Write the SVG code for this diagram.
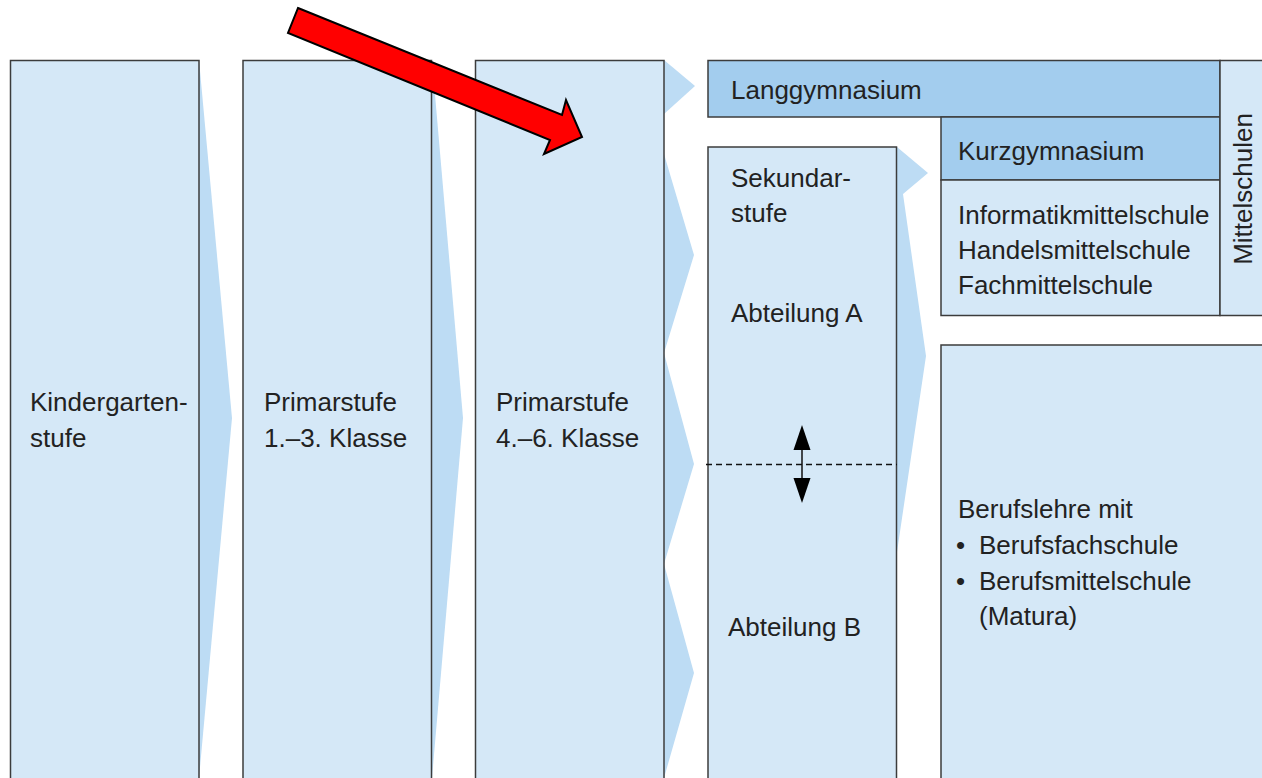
<svg xmlns="http://www.w3.org/2000/svg" width="1262" height="778" viewBox="0 0 1262 778">
<style>
.box{fill:#d5e8f7;stroke:#3c3c3c;stroke-width:1.5}
.dark{fill:#a3cdee;stroke:#3c3c3c;stroke-width:1.5}
.wedge{fill:#bddcf4;stroke:none}
.t{font-family:"Liberation Sans",Arial,Helvetica,sans-serif;font-size:26px;fill:#222}
</style>
<rect x="0" y="0" width="1262" height="778" fill="#ffffff"/>
<g id="flows">
<polygon class="wedge" points="199,60 232,418 199,778"/>
<polygon class="wedge" points="432,60 463,418 432,778"/>
<polygon class="wedge" points="664,60 695,86 664,114"/>
<polygon class="wedge" points="664,154 694,255 664,353 694,464 664,564 694,673 664,778"/>
<polygon class="wedge" points="897,147 928,173 903,194 926,356 897,552"/>
</g>
<g id="kindergarten">
<rect class="box" x="10.5" y="60.5" width="188.5" height="730"/>
<text class="t" x="30" y="410.5">Kindergarten-</text>
<text class="t" x="30" y="447">stufe</text>
</g>
<g id="primar13">
<rect class="box" x="243" y="60.5" width="188.5" height="730"/>
<text class="t" x="264" y="410.5">Primarstufe</text>
<text class="t" x="264" y="447">1.–3. Klasse</text>
</g>
<g id="primar46">
<rect class="box" x="475.5" y="60.5" width="188.5" height="730"/>
<text class="t" x="496" y="410.5">Primarstufe</text>
<text class="t" x="496" y="447">4.–6. Klasse</text>
</g>
<g id="sekundarstufe">
<rect class="box" x="708" y="147" width="188.5" height="650"/>
<text class="t" x="731" y="187">Sekundar-</text>
<text class="t" x="731" y="222">stufe</text>
<text class="t" x="731" y="322">Abteilung A</text>
<text class="t" x="728" y="636">Abteilung B</text>
</g>
<g id="langgymnasium">
<rect class="dark" x="708" y="60.5" width="512" height="56.5"/>
<text class="t" x="731" y="98.5">Langgymnasium</text>
</g>
<g id="kurzgymnasium">
<rect class="dark" x="941" y="117" width="279" height="63"/>
<text class="t" x="958" y="159.5">Kurzgymnasium</text>
</g>
<g id="weitere-mittelschulen">
<rect class="box" x="941" y="180" width="279" height="135.5"/>
<text class="t" x="958" y="223.5">Informatikmittelschule</text>
<text class="t" x="958" y="258.5">Handelsmittelschule</text>
<text class="t" x="958" y="293.5">Fachmittelschule</text>
</g>
<g id="mittelschulen">
<rect class="box" x="1220" y="60.5" width="60" height="255"/>
<text class="t" transform="translate(1251.5,189) rotate(-90)" text-anchor="middle">Mittelschulen</text>
</g>
<g id="berufslehre">
<rect class="box" x="941" y="345" width="340" height="450"/>
<text class="t" x="958" y="517.5">Berufslehre mit</text>
<text class="t" x="956" y="553.5">•</text>
<text class="t" x="979" y="553.5">Berufsfachschule</text>
<text class="t" x="956" y="590">•</text>
<text class="t" x="979" y="590">Berufsmittelschule</text>
<text class="t" x="979" y="625">(Matura)</text>
</g>
<g id="connectors">
<line x1="706" y1="464.5" x2="897" y2="464.5" stroke="#111" stroke-width="1.3" stroke-dasharray="6 4"/>
<line x1="802" y1="445" x2="802" y2="484" stroke="#111" stroke-width="1.5"/>
<polygon points="802,425 793.5,450 810.5,450" fill="#000"/>
<polygon points="793.5,478 810.5,478 802,503" fill="#000"/>
<polygon points="298,8 562,115 566,100 582,137 544,154 550,140 288,33" fill="#ff0000" stroke="#000" stroke-width="2" stroke-linejoin="miter"/>
</g>
</svg>
